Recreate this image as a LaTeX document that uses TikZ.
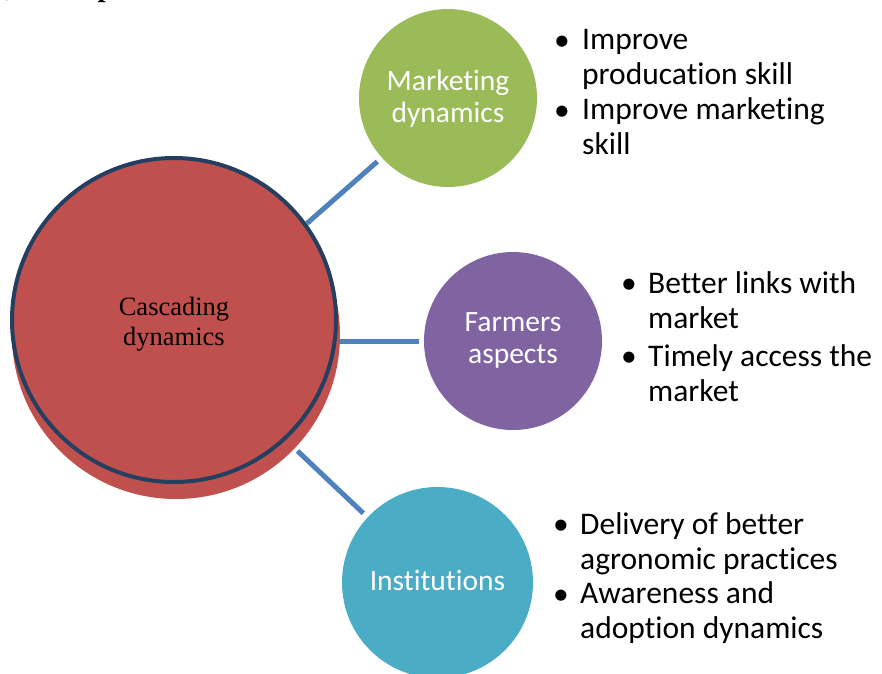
\documentclass[tikz,border=0pt]{standalone}
\usepackage{fontspec}
\setmainfont{Liberation Serif}
\newfontfamily\calib[Ligatures=NoCommon]{Carlito}
\definecolor{hubred}{HTML}{C0504D}
\definecolor{hubedge}{HTML}{243F60}
\definecolor{mkgreen}{HTML}{9BBB59}
\definecolor{fapurple}{HTML}{8064A2}
\definecolor{inteal}{HTML}{4BACC6}
\definecolor{linkblue}{HTML}{4F81BD}
\begin{document}
\begin{tikzpicture}[x=1pt,y=-1pt,
  spoke/.style={circle, inner sep=0pt, outer sep=0pt, draw=none, minimum size=#1},
  spoketext/.style={anchor=base, align=center, inner sep=0pt, text=white,
    font=\calib\fontsize{29.5}{32}\selectfont},
  link/.style={draw=linkblue, line width=4.5pt},
  pointtext/.style={anchor=base west, align=left, inner sep=0pt,
    font=\calib\fontsize{31.5}{34.5}\selectfont},
  pointmark/.style={anchor=base east, inner sep=0pt,
    font=\calib\fontsize{31.5}{34.5}\selectfont},
]
\useasboundingbox (0,0) rectangle (882,673);

% heading, cut off at the top edge
\begin{scope}
  \clip (0,0) rectangle (297,12);
  \node[anchor=base west, inner sep=0pt, font=\bfseries\fontsize{29}{34}\selectfont]
    (heading) at (-4,-3.5) {), Conceptual Framework};
\end{scope}

% central hub with its lower shadow
\fill[hubred] (176,335) circle (164);
\node[circle, fill=hubred, draw=hubedge, line width=4pt, inner sep=0pt,
      minimum size=324pt] (big) at (174,320) {};
% multi-line nodes: the base anchor sits on the last line
\node[anchor=base, align=center, inner sep=0pt, font=\fontsize{26.5}{30}\selectfont]
  (bigtext) at (174,345) {Cascading\\dynamics};

% outer circles
\node[spoke=178pt, fill=mkgreen] (mk) at (448,98) {};
\node[spoketext] (mktext) at (448,122) {Marketing\\dynamics};
\node[spoke=178pt, fill=fapurple] (fa) at (513,341) {};
\node[spoketext] (fatext) at (513,363) {Farmers\\aspects};
\node[spoke=191pt, fill=inteal] (inst) at (437.5,582.5) {};
\node[spoketext] (insttext) at (437.5,590) {Institutions};

% connectors
\draw[link, line width=5pt, shorten >=6pt] (big.36) -- (mk.222);
\draw[link, line width=5pt, shorten <=2pt, shorten >=5pt] (fa.west -| big.east) -- (fa.west);
\draw[link, line width=5pt, shorten <=16pt, shorten >=6pt] (big.-47) -- (inst.137);

% bullet points
\node[pointmark] (ma) at (570,50) {\textbullet};
\node[pointtext] (mat) at (582,84) {Improve\\producation skill};
\node[pointmark] (mb) at (570,120) {\textbullet};
\node[pointtext] (mbt) at (582,154) {Improve marketing\\skill};

\node[pointmark] (fa1) at (637,293) {\textbullet};
\node[pointtext] (fat) at (648,328) {Better links with\\market};
\node[pointmark] (fb) at (637,366) {\textbullet};
\node[pointtext] (fbt) at (648,401) {Timely access the\\market};

\node[pointmark] (ia) at (569,534) {\textbullet};
\node[pointtext] (iat) at (580,569) {Delivery of better\\agronomic practices};
\node[pointmark] (ib) at (569,604) {\textbullet};
\node[pointtext] (ibt) at (580,638) {Awareness and\\adoption dynamics};
\end{tikzpicture}
\end{document}
